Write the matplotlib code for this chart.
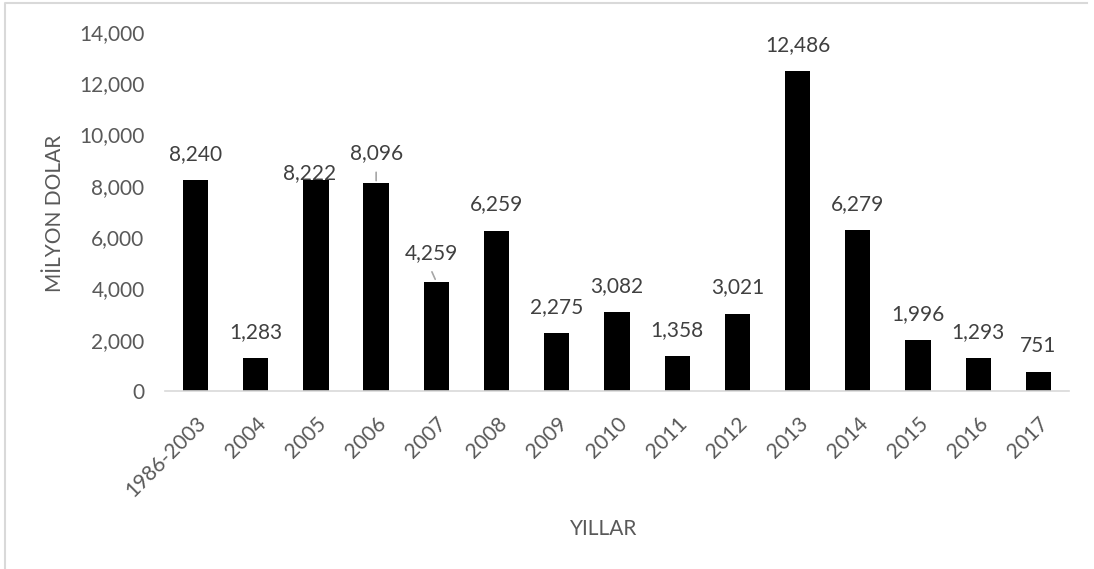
import numpy as np
import matplotlib.pyplot as plt
import matplotlib as mpl
from matplotlib.lines import Line2D
from matplotlib.ticker import FuncFormatter

years = ["1986-2003", "2004", "2005", "2006", "2007", "2008", "2009", "2010",
         "2011", "2012", "2013", "2014", "2015", "2016", "2017"]
values = [8240, 1283, 8222, 8096, 4259, 6259, 2275, 3082,
          1358, 3021, 12486, 6279, 1996, 1293, 751]
y_ticks = [0, 2000, 4000, 6000, 8000, 10000, 12000, 14000]

plt.rcParams['font.family'] = ['Lato', 'DejaVu Sans']
text_col = "#595959"
label_col = "#404040"

fig = plt.figure(figsize=(10.94, 5.69), dpi=100)
ax = fig.add_axes([0.1512, 0.3128, 0.8255, 0.631])

x = np.arange(len(years))
ax.bar(x, values, width=0.42, color="#000000")
ax.set_xlim(-0.5, len(years) - 0.5)
ax.set_ylim(0, 14000)
ax.set_yticks(y_ticks)
ax.yaxis.set_major_formatter(FuncFormatter(lambda v, p: f"{int(v):,}"))
ax.set_xticks(x)
ax.set_xticklabels(years, rotation=45, ha='right', rotation_mode='anchor')

for s in ['top', 'right', 'left']:
    ax.spines[s].set_visible(False)
ax.spines['bottom'].set_color("#d9d9d9")
ax.spines['bottom'].set_linewidth(1.2)
ax.tick_params(axis='both', length=0, labelsize=15, colors=text_col)
ax.tick_params(axis='y', pad=15)
ax.tick_params(axis='x', pad=16)

# data labels (a few were moved by hand in the original)
offsets = {2: (-6, 7), 3: (0, 30), 4: (-5, 29)}
for i, v in enumerate(values):
    dx, dy = offsets.get(i, (0, 26))
    ax.annotate(f"{v:,}", (x[i], v), xytext=(dx * 0.72, dy * 0.72),
                textcoords='offset points', ha='center', va='center',
                fontsize=15, color=label_col)
# leader lines
ax.annotate("", (x[3], values[3]), xytext=(0, 10), textcoords='offset points',
            arrowprops=dict(arrowstyle='-', color="#a6a6a6", lw=1.2))
ax.annotate("", (x[4], values[4]), xytext=(-4, 9), textcoords='offset points',
            arrowprops=dict(arrowstyle='-', color="#a6a6a6", lw=1.2))

fig.text(0.050, 0.625, "MİLYON DOLAR", rotation=90, ha='center', va='center',
         fontsize=15, color=text_col)
fig.text(0.552, 0.07, "YILLAR", ha='center', va='center',
         fontsize=15, color=text_col)

# chart frame (only left and top edges visible in the crop)
fig.add_artist(Line2D([0.005, 0.005, 0.994], [0.0, 0.994, 0.994],
                      transform=fig.transFigure, color="#d9d9d9", lw=1.5))

fig.savefig("out.png", dpi=100)
